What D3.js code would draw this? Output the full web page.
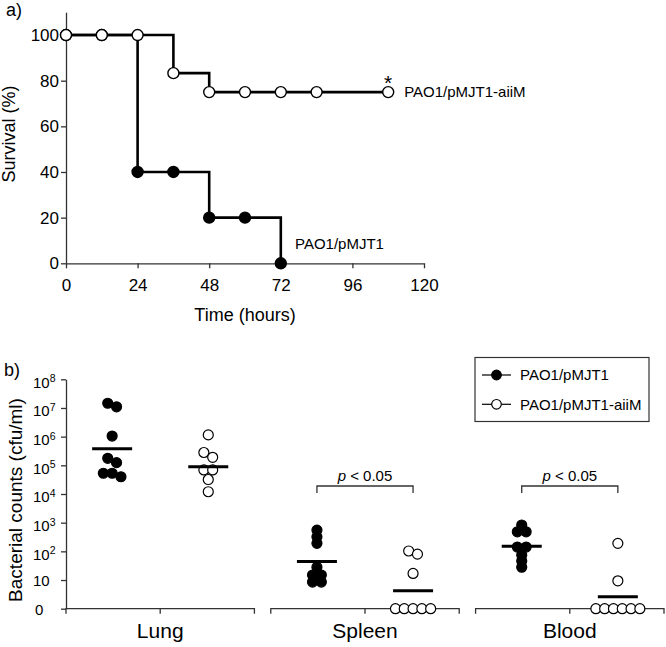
<!DOCTYPE html>
<html><head><meta charset="utf-8">
<script src="https://cdn.jsdelivr.net/npm/d3@7"></script>
<style>
body{margin:0;background:#fff}
text{font-family:"Liberation Sans",Arial,Helvetica,sans-serif;fill:#000}
</style>
</head><body>
<svg id="chart" width="666" height="647"></svg>
<script>
// ---------- Panel a: survival ----------
const timesPMJT1 = [0, 12, 24, 36, 48, 60, 72];
const survivalPMJT1 = [100, 100, 40, 40, 20, 20, 0];
const timesAiiM = [0, 12, 24, 36, 48, 60, 72, 84, 108];
const survivalAiiM = [100, 100, 100, 83.3, 75, 75, 75, 75, 75];
const timeTicks = [0, 24, 48, 72, 96, 120];
const survivalTicks = [0, 20, 40, 60, 80, 100];
const strains = ["PAO1/pMJT1", "PAO1/pMJT1-aiiM"];

// ---------- Panel b: bacterial counts ----------
const organs = ["Lung", "Spleen", "Blood"];
const lungPMJT1 = [1.46e7, 1.1e7, 1.05e6, 1.76e5, 1.24e5, 5.3e4, 5.3e4, 4e4];
const lungAiiM = [1.15e6, 2.8e5, 1.9e5, 6.9e4, 6.9e4, 3.2e4, 1.2e4];
const spleenPMJT1 = [550, 320, 190, 28, 15, 15, 8.5, 8.5];
const spleenAiiM = [103, 80, 17, 0, 0, 0, 0, 0];
const bloodPMJT1 = [830, 480, 480, 141, 141, 74, 46, 28];
const bloodAiiM = [190, 9.4, 0, 0, 0, 0, 0, 0];
const meanPMJT1 = [3.8e5, 44, 150];
const meanAiiM = [9e4, 4.2, 2.6];
const countTicks = [1, 10, 1e2, 1e3, 1e4, 1e5, 1e6, 1e7, 1e8];
const countTickBase = ["0", "10", "10", "10", "10", "10", "10", "10", "10"];
const countTickExp = ["", "", "2", "3", "4", "5", "6", "7", "8"];
const sigOrgans = ["Spleen", "Blood"];
const sigLabel = "< 0.05";

const svg = d3.select("#chart");
const AX = "#333";

// ================= Panel a =================
const xA = d3.scaleLinear([0, 120], [66, 424]);
const yA = d3.scaleLinear([0, 110], [263.3, 12.2]);

const gA = svg.append("g");
const yAxA = gA.append("g").attr("transform", "translate(66,0)")
  .call(d3.axisLeft(yA).tickValues(survivalTicks).tickSize(5).tickPadding(2).tickSizeOuter(0));
const xAxA = gA.append("g").attr("transform", "translate(0,263.3)")
  .call(d3.axisBottom(xA).tickValues(timeTicks).tickSize(5).tickPadding(10.5).tickSizeOuter(0));
[yAxA, xAxA].forEach(a => {
  a.selectAll("path,line").attr("stroke", AX).attr("stroke-width", 1.3);
  a.selectAll("text").attr("font-size", 17).attr("fill", "#000")
    .style("font-family", '"Liberation Sans",Arial,sans-serif');
});

const stepLine = d3.line().x(d => xA(d[0])).y(d => yA(d[1])).curve(d3.curveStepAfter);
const seriesA = [
  {t: timesPMJT1, s: survivalPMJT1, fill: "#000"},
  {t: timesAiiM, s: survivalAiiM, fill: "#fff"}
];
seriesA.forEach(ser => {
  const pts = ser.t.map((t, i) => [t, ser.s[i]]);
  gA.append("path").attr("d", stepLine(pts)).attr("fill", "none")
    .attr("stroke", "#000").attr("stroke-width", 2.6);
});
seriesA.forEach(ser => {
  const pts = ser.t.map((t, i) => [t, ser.s[i]]);
  gA.selectAll(null).data(pts).enter().append("circle")
    .attr("cx", d => xA(d[0])).attr("cy", d => yA(d[1])).attr("r", 5.5)
    .attr("fill", ser.fill).attr("stroke", "#000").attr("stroke-width", 1.4);
});
const lastA = timesAiiM.length - 1;
gA.append("text").attr("x", xA(timesAiiM[lastA])).attr("y", 90)
  .attr("text-anchor", "middle").attr("font-size", 21).text("*");
gA.append("text").attr("x", xA(timesAiiM[lastA]) + 16).attr("y", yA(survivalAiiM[lastA]))
  .attr("dy", "0.36em").attr("font-size", 15).text(strains[1]);
gA.append("text").attr("x", 295).attr("y", 248.5).attr("font-size", 15).text(strains[0]);

gA.append("text").attr("x", 245).attr("y", 321).attr("text-anchor", "middle")
  .attr("font-size", 18).text("Time (hours)");
gA.append("text").attr("transform", "translate(15,134) rotate(-90)")
  .attr("text-anchor", "middle").attr("font-size", 18).text("Survival (%)");
svg.append("text").attr("x", 6).attr("y", 16).attr("font-size", 18).text("a)");

// ================= Panel b =================
const gB = svg.append("g");
const yB = d3.scaleLog([1, 1e8], [608.7, 379.3]);
const xB = d3.scaleBand(organs, [66, 664]).paddingInner(0.08);
const xS = d3.scalePoint(strains, [0, xB.bandwidth()]).padding(0.48);
const baseY = yB(1);

const yAxB = gB.append("g").attr("transform", "translate(66,0)")
  .call(d3.axisLeft(yB).tickValues(countTicks).tickSize(5).tickSizeOuter(0).tickFormat(() => ""));
yAxB.selectAll("path,line").attr("stroke", AX).attr("stroke-width", 1.3);
yAxB.selectAll(".tick").each(function(d, i) {
  const t = d3.select(this).append("text")
    .attr("x", i === 0 ? -31 : -33).attr("text-anchor", "start")
    .attr("dy", countTickExp[i] ? "0.52em" : "0.36em")
    .attr("font-size", 15).attr("fill", "#000");
  t.append("tspan").text(countTickBase[i]);
  if (countTickExp[i]) t.append("tspan").attr("dy", "-0.5em").attr("font-size", 10.5).text(countTickExp[i]);
});

// broken category axis
organs.forEach(o => {
  const x0 = xB(o), x1 = xB(o) + xB.bandwidth(), xc = x0 + xB.bandwidth() / 2;
  gB.append("path").attr("d", `M${x0},${baseY + 5}V${baseY}H${x1}V${baseY + 5}M${xc},${baseY}V${baseY + 5}`)
    .attr("fill", "none").attr("stroke", AX).attr("stroke-width", 1.3);
  gB.append("text").attr("x", xc).attr("y", 638).attr("text-anchor", "middle")
    .attr("font-size", 21).text(o);
});

gB.append("text").attr("transform", "translate(22,500) rotate(-90)")
  .attr("text-anchor", "middle").attr("font-size", 19).text("Bacterial counts (cfu/ml)");
svg.append("text").attr("x", 4).attr("y", 376).attr("font-size", 18).text("b)");

const groups = [
  {organ: "Lung", strain: strains[0], vals: lungPMJT1, mean: meanPMJT1[0]},
  {organ: "Lung", strain: strains[1], vals: lungAiiM, mean: meanAiiM[0]},
  {organ: "Spleen", strain: strains[0], vals: spleenPMJT1, mean: meanPMJT1[1]},
  {organ: "Spleen", strain: strains[1], vals: spleenAiiM, mean: meanAiiM[1]},
  {organ: "Blood", strain: strains[0], vals: bloodPMJT1, mean: meanPMJT1[2]},
  {organ: "Blood", strain: strains[1], vals: bloodAiiM, mean: meanAiiM[2]}
];
const cxOf = (o, s) => xB(o) + xS(s);

// simple row-based swarm layout
function swarm(vals, cx) {
  const pts = vals.map(v => ({v, y: yB(Math.max(v, 1))})).sort((a, b) => a.y - b.y);
  const rows = [];
  pts.forEach(p => {
    const r = rows[rows.length - 1];
    if (!r || p.y - r[0].y >= 5) rows.push([p]); else r.push(p);
  });
  rows.forEach(r => r.forEach((p, i) => { p.x = cx + (i - (r.length - 1) / 2) * 8.8; }));
  return pts;
}

groups.forEach(g => {
  const cx = cxOf(g.organ, g.strain);
  const filled = g.strain === strains[0];
  const pts = swarm(g.vals, cx);
  gB.selectAll(null).data(pts).enter().append("circle")
    .attr("cx", d => d.x).attr("cy", d => d.y).attr("r", 5)
    .attr("fill", filled ? "#000" : "#fff").attr("stroke", "#000").attr("stroke-width", 1.2);
  gB.append("line").attr("x1", cx - 20).attr("x2", cx + 20)
    .attr("y1", yB(g.mean)).attr("y2", yB(g.mean))
    .attr("stroke", "#000").attr("stroke-width", 3);
});

// significance brackets
sigOrgans.forEach(o => {
  const x1 = cxOf(o, strains[0]), x2 = cxOf(o, strains[1]);
  gB.append("path").attr("d", `M${x1},493V486H${x2}V493`)
    .attr("fill", "none").attr("stroke", AX).attr("stroke-width", 1.3);
  const t = gB.append("text").attr("x", (x1 + x2) / 2).attr("y", 481)
    .attr("text-anchor", "middle").attr("font-size", 15);
  t.append("tspan").attr("font-style", "italic").text("p");
  t.append("tspan").text(" " + sigLabel);
});

// legend
const lg = gB.append("g");
lg.append("rect").attr("x", 475).attr("y", 357.5).attr("width", 174).attr("height", 64)
  .attr("fill", "#fff").attr("stroke", AX).attr("stroke-width", 1.2);
strains.forEach((s, i) => {
  const y = 375 + i * 29.3;
  lg.append("line").attr("x1", 482).attr("x2", 511).attr("y1", y).attr("y2", y)
    .attr("stroke", "#000").attr("stroke-width", 1.2);
  lg.append("circle").attr("cx", 496.5).attr("cy", y).attr("r", 4.8)
    .attr("fill", i === 0 ? "#000" : "#fff").attr("stroke", "#000").attr("stroke-width", 1.2);
  lg.append("text").attr("x", 520).attr("y", y).attr("dy", "0.36em")
    .attr("font-size", 15).text(s);
});
</script>
</body></html>
